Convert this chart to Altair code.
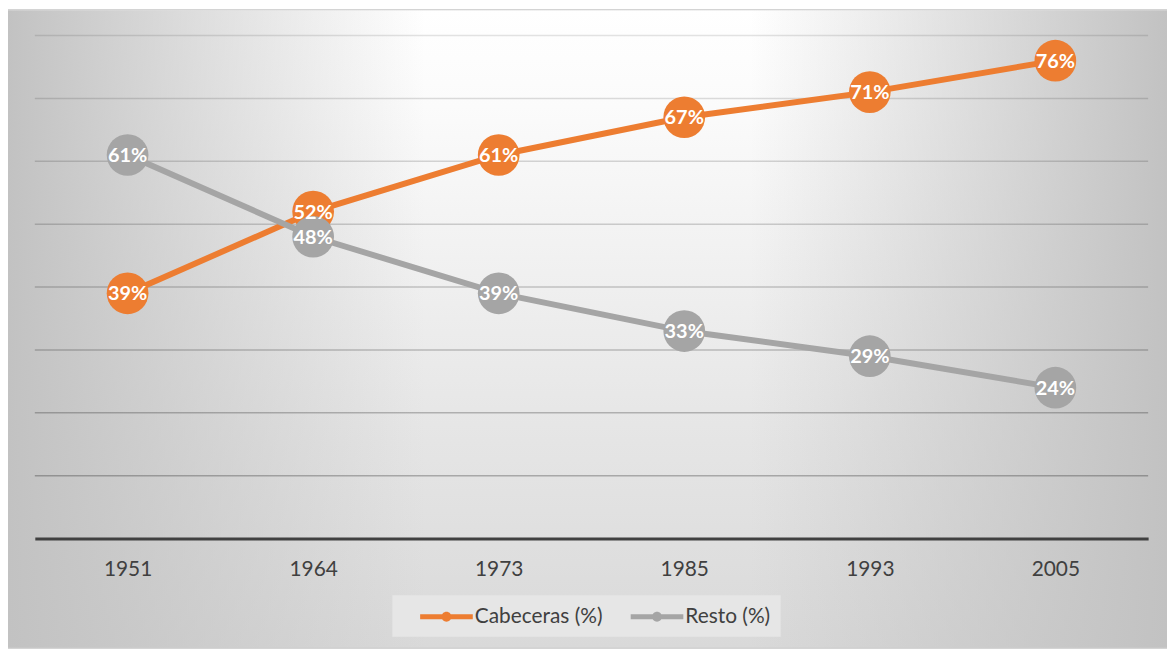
import altair as alt
import pandas as pd

# ---- data ----
years = ["1951", "1964", "1973", "1985", "1993", "2005"]
cabeceras = [39, 52, 61, 67, 71, 76]
resto = [61, 48, 39, 33, 29, 24]
series_names = ["Cabeceras (%)", "Resto (%)"]
series_colors = ["#ED7D31", "#A5A5A5"]
grid_values = [10, 20, 30, 40, 50, 60, 70, 80]

df = pd.DataFrame({
    "year": years * 2,
    "value": cabeceras + resto,
    "serie": [series_names[0]] * len(years) + [series_names[1]] * len(years),
})
df["label"] = df["value"].astype(str) + "%"
grid_df = pd.DataFrame({"g": grid_values})
one = pd.DataFrame({"a": [0]})

W, H = 1167, 642
FONT = "Lato"

x_enc = alt.X(
    "year:O",
    scale=alt.Scale(type="point", range=[27, 1148], padding=0.5),
    axis=alt.Axis(title=None, offset=-110, domainColor="#404040", domainWidth=3,
                  ticks=False, tickSize=0, labelPadding=20, labelFont=FONT,
                  labelFontSize=21, labelColor="#404040", labelAngle=0, grid=False,
                  zindex=1),
)
y_enc = alt.Y("value:Q", scale=alt.Scale(domain=[0, 80], range=[532, 25.5]), axis=None)

# legend symbol: a line with a dot, drawn to the right of the symbol anchor
sym_path = ("M0.565,-0.217 L5.174,-0.217 L5.174,0.217 L0.565,0.217 Z "
            "M2.435,0 A0.435,0.435 0 1,1 3.305,0 A0.435,0.435 0 1,1 2.435,0 Z")
legend = alt.Legend(
    title=None, orient="none", legendX=387, legendY=589, direction="horizontal",
    fillColor="#e6e6e6", padding=10, zindex=1,
    symbolType=sym_path, symbolSize=529, symbolStrokeWidth=0, symbolOpacity=1,
    labelFont=FONT, labelFontSize=21, labelColor="#404040", labelOffset=50,
    columnPadding=10,
)
color_scale = alt.Scale(domain=series_names, range=series_colors)

# ---- background (gradient box) ----
bg_v = alt.Chart(one).mark_rect(
    fill=alt.LinearGradient(
        gradient="linear", x1=0, y1=0, x2=0, y2=1,
        stops=[alt.GradientStop(offset=0, color="#ffffff"),
               alt.GradientStop(offset=0.15, color="#fbfbfb"),
               alt.GradientStop(offset=0.65, color="#e6e6e6"),
               alt.GradientStop(offset=1, color="#d9d9d9")],
    )
).encode(opacity=alt.value(1))

bg_h = alt.Chart(one).mark_rect(
    fill=alt.LinearGradient(
        gradient="linear", x1=0, y1=0, x2=1, y2=0,
        stops=[alt.GradientStop(offset=0, color="rgba(194,194,194,1)"),
               alt.GradientStop(offset=0.36, color="rgba(194,194,194,0)"),
               alt.GradientStop(offset=0.64, color="rgba(194,194,194,0)"),
               alt.GradientStop(offset=1, color="rgba(194,194,194,1)")],
    )
).encode(opacity=alt.value(1))

grid = alt.Chart(grid_df).mark_rule(strokeWidth=1.5, color="#000000").encode(
    x=alt.value(27), x2=alt.value(1148),
    y=alt.Y("g:Q", scale=alt.Scale(domain=[0, 80], range=[532, 25.5]), axis=None),
    strokeOpacity=alt.StrokeOpacity("g:Q", scale=alt.Scale(domain=[10, 80], range=[0.26, 0.11]), legend=None),
)

layers = [bg_v, bg_h, grid]
for name, col in zip(series_names, series_colors):
    sub = alt.Chart(df).transform_filter(alt.datum.serie == name)
    layers.append(sub.mark_line(strokeWidth=6).encode(
        x=x_enc, y=y_enc, color=alt.value(col),
    ))
    layers.append(sub.mark_circle(size=1764, opacity=1).encode(
        x=x_enc, y=y_enc,
        color=alt.Color("serie:N", scale=color_scale, legend=legend),
    ))

labels = alt.Chart(df).mark_text(
    font=FONT, fontSize=20, fontWeight="bold", color="white",
    align="center", baseline="middle", dy=1,
).encode(x=x_enc, y=y_enc, text="label:N")
layers.append(labels)

chart = alt.layer(*layers).properties(width=W, height=H, padding=0).configure_view(
    stroke="#c6c6c6", strokeWidth=2
)

chart.save("out.html", embed_options={"renderer": "svg", "actions": False})
